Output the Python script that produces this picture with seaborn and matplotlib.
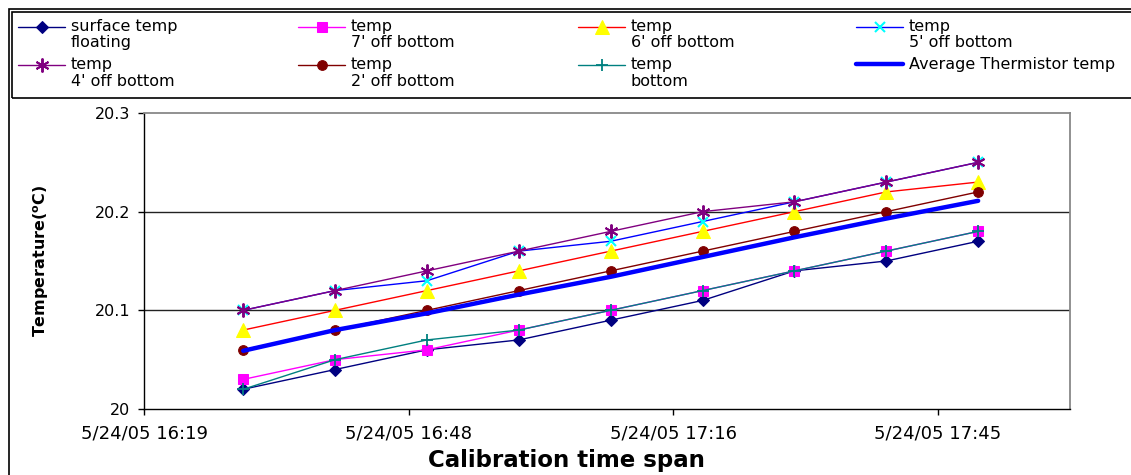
import numpy as np
import pandas as pd
import matplotlib
matplotlib.use("Agg")
import matplotlib.pyplot as plt
from matplotlib.patches import Rectangle
from matplotlib.legend_handler import HandlerLine2D
import seaborn as sns

# ---------------- data ----------------
times = pd.to_datetime([
    "2005-05-24 16:30", "2005-05-24 16:40", "2005-05-24 16:50",
    "2005-05-24 17:00", "2005-05-24 17:10", "2005-05-24 17:20",
    "2005-05-24 17:30", "2005-05-24 17:40", "2005-05-24 17:50",
])
surface_floating = [20.02, 20.04, 20.06, 20.07, 20.09, 20.11, 20.14, 20.15, 20.17]
temp_7ft = [20.03, 20.05, 20.06, 20.08, 20.10, 20.12, 20.14, 20.16, 20.18]
temp_6ft = [20.08, 20.10, 20.12, 20.14, 20.16, 20.18, 20.20, 20.22, 20.23]
temp_5ft = [20.10, 20.12, 20.13, 20.16, 20.17, 20.19, 20.21, 20.23, 20.25]
temp_4ft = [20.10, 20.12, 20.14, 20.16, 20.18, 20.20, 20.21, 20.23, 20.25]
temp_2ft = [20.06, 20.08, 20.10, 20.12, 20.14, 20.16, 20.18, 20.20, 20.22]
temp_bottom = [20.02, 20.05, 20.07, 20.08, 20.10, 20.12, 20.14, 20.16, 20.18]
avg_thermistor = [20.059, 20.080, 20.097, 20.116, 20.134, 20.154, 20.174, 20.193, 20.211]

series_labels = [
    "surface temp\nfloating", "temp\n7' off bottom", "temp\n6' off bottom",
    "temp\n5' off bottom", "temp\n4' off bottom", "temp\n2' off bottom",
    "temp\nbottom", "Average Thermistor temp",
]
tick_times = pd.to_datetime(["2005-05-24 16:19:12", "2005-05-24 16:48:00",
                             "2005-05-24 17:16:48", "2005-05-24 17:45:36"])
tick_labels = ["5/24/05 16:19", "5/24/05 16:48", "5/24/05 17:16", "5/24/05 17:45"]
x_limits = pd.to_datetime(["2005-05-24 16:19:12", "2005-05-24 18:00:00"])
y_ticks = [20.0, 20.1, 20.2, 20.3]
y_ticklabels = ["20", "20.1", "20.2", "20.3"]

# ---------------- style ----------------
sns.set_style("white")
plt.rcParams["font.family"] = ["DejaVu Sans"]
plt.rcParams["text.color"] = "black"
plt.rcParams["axes.labelcolor"] = "black"
plt.rcParams["xtick.color"] = "black"
plt.rcParams["ytick.color"] = "black"

W, H = 1131, 475
fig = plt.figure(figsize=(W / 100, H / 100), dpi=100)
fig.patch.set_facecolor("white")
ax = fig.add_axes([144 / W, 1 - 409 / H, (1070 - 144) / W, (409 - 113) / H])

styles = [
    dict(color="#000080", marker="D", markersize=6.5, markerfacecolor="#000080", markeredgecolor="#000080", linewidth=1.0),
    dict(color="#FF00FF", marker="s", markersize=7, markerfacecolor="#FF00FF", markeredgecolor="#FF00FF", linewidth=1.0),
    dict(color="#FF0000", marker="^", markersize=9.5, markerfacecolor="#FFFF00", markeredgecolor="#FFFF00", linewidth=1.0),
    dict(color="#0000FF", marker="x", markersize=7, markerfacecolor="#00FFFF", markeredgecolor="#00FFFF", markeredgewidth=1.5, linewidth=1.0),
    dict(color="#800080", marker=(6, 2, 0), markersize=10, markerfacecolor="#800080", markeredgecolor="#800080", markeredgewidth=1.4, linewidth=1.0),
    dict(color="#800000", marker="o", markersize=7, markerfacecolor="#800000", markeredgecolor="#800000", linewidth=1.0),
    dict(color="#008080", marker="+", markersize=9, markerfacecolor="#008080", markeredgecolor="#008080", markeredgewidth=1.3, linewidth=1.0),
    dict(color="#0000FF", linewidth=3.2),
]
all_series = [surface_floating, temp_7ft, temp_6ft, temp_5ft, temp_4ft,
              temp_2ft, temp_bottom, avg_thermistor]

handles = []
for vals, lab, st in zip(all_series, series_labels, styles):
    df = pd.DataFrame({"time": times, "value": vals})
    sns.lineplot(data=df, x="time", y="value", ax=ax, estimator=None,
                 errorbar=None, sort=False, label=lab, legend=False, **st)
    handles.append(ax.lines[-1])

# axes
ax.set_xlim(x_limits[0], x_limits[1])
ax.set_ylim(20.0, 20.3)
ax.set_xticks(tick_times)
ax.set_xticklabels(tick_labels, fontsize=13)
ax.set_yticks(y_ticks)
ax.set_yticklabels(y_ticklabels, fontsize=11.5)
ax.tick_params(axis="both", direction="out", length=4, width=1, color="black",
               labelcolor="black")
ax.tick_params(axis="x", pad=7, bottom=True)
ax.tick_params(axis="y", pad=6, left=True)
ax.grid(False)
for yv in y_ticks[1:3]:
    ax.axhline(yv, color="#222222", linewidth=1.0, zorder=0.5)
for side in ["left", "bottom"]:
    ax.spines[side].set_color("black")
    ax.spines[side].set_linewidth(1.0)
for side in ["top", "right"]:
    ax.spines[side].set_color("#888888")
    ax.spines[side].set_linewidth(1.3)
    ax.spines[side].set_visible(True)

ax.set_xlabel("Calibration time span", fontsize=16.5, fontweight="bold", color="black")
ax.xaxis.set_label_coords((566 - 144) / 926, (409 - 449) / 296)
ax.set_ylabel(r"Temperature($^{\mathbf{o}}$C)", fontsize=11.5, fontweight="bold", color="black")
ax.yaxis.set_label_coords((51 - 144) / 926, 0.5)

# ---------------- borders ----------------
fig.add_artist(Rectangle((9 / W, -0.05), 1.1, 1 - 9 / H + 0.05, transform=fig.transFigure,
                         fill=False, edgecolor="black", linewidth=1.2))
fig.add_artist(Rectangle((12 / W, 1 - 98 / H), 1.1, (98 - 12) / H, transform=fig.transFigure,
                         fill=False, edgecolor="black", linewidth=1.2))


# ---------------- legend ----------------
class TopHandler(HandlerLine2D):
    def __init__(self, shift, **kw):
        super().__init__(**kw)
        self.shift = shift

    def create_artists(self, legend, orig_handle, xdescent, ydescent, width,
                       height, fontsize, trans):
        return super().create_artists(legend, orig_handle, xdescent,
                                      ydescent - 2 * self.shift, width,
                                      height, fontsize, trans)


leg_fs = 11.5
shift_pts = 6.0
columns = [(0, 4), (1, 5), (2, 6), (3, 7)]
col_x = [18, 298, 578, 856]
for (i, j), cx in zip(columns, col_x):
    hs = [handles[i], handles[j]]
    ls = [series_labels[i], series_labels[j]]
    hmap = {}
    for h, l in zip(hs, ls):
        if "\n" in l:
            hmap[h] = TopHandler(shift_pts)
    leg = fig.legend(hs, ls, loc="upper left", bbox_to_anchor=(cx / W, 1 - 19 / H),
                     bbox_transform=fig.transFigure, frameon=False,
                     fontsize=leg_fs, borderpad=0, borderaxespad=0,
                     handlelength=2.95, handletextpad=0.35, labelspacing=0.45,
                     handler_map=hmap, numpoints=1)
    for t in leg.get_texts():
        t.set_linespacing(1.1)
        t.set_color("black")

fig.savefig("out.png", dpi=100, facecolor="white")
